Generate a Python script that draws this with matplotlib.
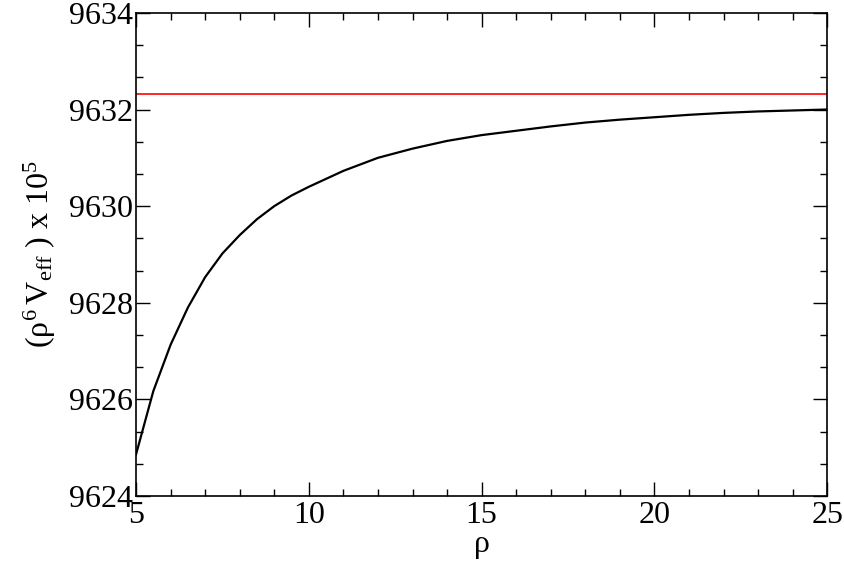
import numpy as np
import matplotlib
matplotlib.use("Agg")
import matplotlib.pyplot as plt
from matplotlib.ticker import MultipleLocator

plt.rcParams['font.family'] = ['Liberation Serif', 'DejaVu Serif']
plt.rcParams['mathtext.fontset'] = 'custom'
plt.rcParams['mathtext.rm'] = 'Liberation Serif'
plt.rcParams['mathtext.it'] = 'Liberation Serif'

# values
rho = [5, 5.5, 6, 6.5, 7, 7.5, 8, 8.5, 9, 9.5, 10, 11, 12, 13, 14, 15,
       16, 17, 18, 19, 20, 21, 22, 23, 24, 25]
v_eff = [9624.86, 9626.17, 9627.13, 9627.90, 9628.53, 9629.02, 9629.40,
         9629.73, 9630.00, 9630.22, 9630.40, 9630.73, 9631.00, 9631.19,
         9631.35, 9631.47, 9631.56, 9631.65, 9631.73, 9631.79, 9631.84,
         9631.89, 9631.93, 9631.96, 9631.98, 9632.00]
v_limit = 9632.33

fig = plt.figure(figsize=(8.45, 5.61), dpi=100)
ax = fig.add_axes([0.161, 0.116, 0.818, 0.861])

ax.plot(rho, v_eff, color='black', lw=1.6)
ax.axhline(v_limit, color='red', lw=1.2)

ax.set_xlim(5, 25)
ax.set_ylim(9624, 9634)
ax.xaxis.set_major_locator(MultipleLocator(5))
ax.xaxis.set_minor_locator(MultipleLocator(1))
ax.yaxis.set_major_locator(MultipleLocator(2))
ax.yaxis.set_minor_locator(MultipleLocator(2 / 3))

ax.tick_params(which='both', direction='in', top=True, right=True, width=1.0)
ax.tick_params(which='major', length=10, labelsize=23)
ax.tick_params(which='minor', length=5)
ax.tick_params(axis='y', pad=2)
ax.tick_params(axis='x', pad=4)
for s in ax.spines.values():
    s.set_linewidth(1.2)

ax.set_xlabel(r'$\rho$', fontsize=23, labelpad=1)
ax.set_ylabel(r'($\rho^6\,V_{\mathrm{eff}}$ ) x 10$^5$', fontsize=23, labelpad=8)

fig.savefig('out.png', dpi=100)
